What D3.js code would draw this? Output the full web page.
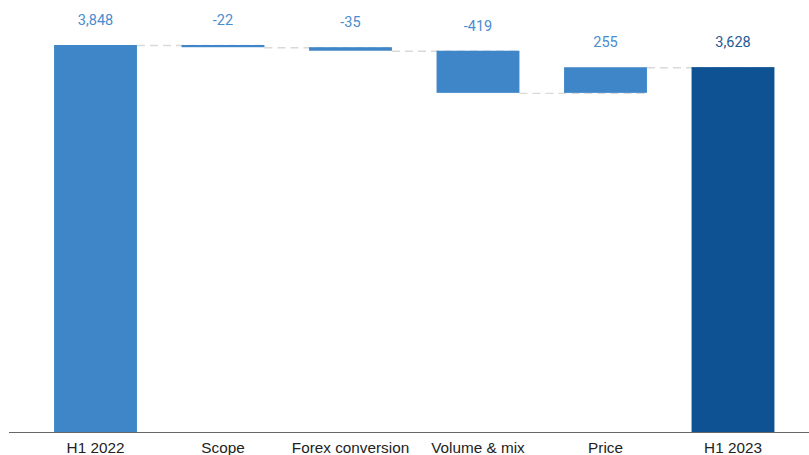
<!DOCTYPE html>
<html><head><meta charset="utf-8">
<script src="https://cdn.jsdelivr.net/npm/d3@7"></script>
<style>body{margin:0;background:#fff}</style>
</head><body>
<svg id="c" width="809" height="455"></svg>
<script>
const categories = ["H1 2022","Scope","Forex conversion","Volume & mix","Price","H1 2023"];
const deltas = [3848, -22, -35, -419, 255, 3628];
const isTotal = [true, false, false, false, false, true];
const labels = ["3,848","-22","-35","-419","255","3,628"];

const svg = d3.select("#c");
const x = d3.scaleBand().domain(categories).range([31.75, 796.75]).paddingInner(0.35).paddingOuter(0.175);
const y = d3.scaleLinear().domain([0, 3848]).range([432, 45]);

let run = 0;
const data = categories.map((c,i)=>{
  let start, end;
  if (isTotal[i]) { start = 0; end = deltas[i]; run = deltas[i]; }
  else { start = run; end = run + deltas[i]; run = end; }
  return {c, start, end, total:isTotal[i], label:labels[i]};
});

// connectors
const conn = svg.append("g");
data.forEach((d,i)=>{
  if (i === data.length-1) return;
  conn.append("line")
    .attr("x1", x(d.c)+x.bandwidth()).attr("x2", x(data[i+1].c)+x.bandwidth())
    .attr("y1", y(d.end)+0.5).attr("y2", y(d.end)+0.5)
    .attr("stroke","#d9d9d9").attr("stroke-width",1.4).attr("stroke-dasharray","8,5");
});

svg.append("g").selectAll("rect").data(data).join("rect")
  .attr("x", d=>x(d.c)).attr("width", x.bandwidth())
  .attr("y", d=>y(Math.max(d.start,d.end)))
  .attr("height", d=>Math.max(1, Math.abs(y(d.start)-y(d.end))))
  .attr("fill", d=>d.total && d.c==="H1 2023" ? "#0f5294" : "#3f86c8");

svg.append("g").selectAll("text").data(data).join("text")
  .attr("x", d=>x(d.c)+x.bandwidth()/2)
  .attr("y", d=>y(Math.max(d.start,d.end))-20)
  .attr("text-anchor","middle")
  .attr("font-family","Roboto, sans-serif").attr("font-size",14.5)
  .attr("fill", d=>d.c==="H1 2023" ? "#1f5a96" : "#4a8cd0")
  .text(d=>d.label);

const ax = svg.append("g").attr("transform","translate(0,432)")
  .call(d3.axisBottom(x).tickSize(0).tickPadding(10));
ax.select(".domain").remove();
ax.selectAll("text").attr("font-family","'Liberation Sans', Arial, sans-serif").attr("font-size",15.3).attr("fill","#222");
svg.append("line").attr("x1",9).attr("x2",809).attr("y1",432.5).attr("y2",432.5).attr("stroke","#666").attr("stroke-width",1);
</script>
</body></html>
